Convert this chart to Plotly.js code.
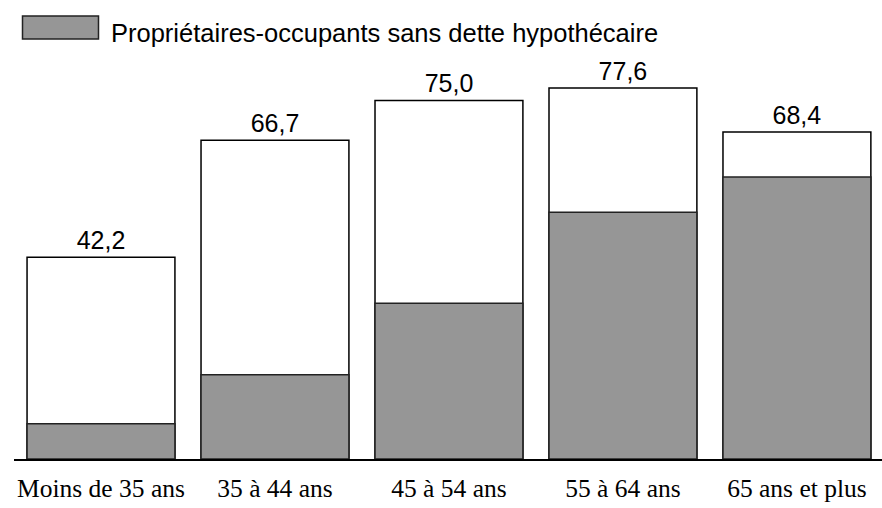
<!DOCTYPE html>
<html>
<head>
<meta charset="utf-8">
<script src="https://cdn.plot.ly/plotly-3.0.1.min.js"></script>
<style>html,body{margin:0;padding:0;background:#fff;}#chart{width:882px;height:508px;}</style>
</head>
<body>
<div id="chart"></div>
<script>
// Data
const categories = ["Moins de 35 ans", "35 à 44 ans", "45 à 54 ans", "55 à 64 ans", "65 ans et plus"];
const totalOwners = [42.2, 66.7, 75.0, 77.6, 68.4];      // Total propriétaires-occupants (white bars, labelled)
const noMortgage = [7.4, 17.6, 32.6, 51.6, 59.0];         // Propriétaires-occupants sans dette hypothécaire (grey)
const legendName = "Propriétaires-occupants sans dette hypothécaire";

const sansFont = "Liberation Sans, Arial, Helvetica, sans-serif";
const serifFont = "Liberation Serif, Times New Roman, Times, serif";
const fmt = v => v.toFixed(1).replace('.', ',');

const traces = [
  {
    type: 'bar',
    name: 'Propriétaires-occupants',
    x: categories,
    y: totalOwners,
    text: totalOwners.map(fmt),
    textposition: 'outside',
    cliponaxis: false,
    textfont: {family: sansFont, size: 25, color: '#000'},
    marker: {color: '#ffffff', line: {color: '#000000', width: 1.5}},
    showlegend: false,
    hoverinfo: 'x+y'
  },
  {
    type: 'bar',
    name: legendName,
    x: categories,
    y: noMortgage,
    marker: {color: '#969696', line: {color: '#222222', width: 1.5}},
    showlegend: false,
    hoverinfo: 'x+y'
  }
];

const layout = {
  width: 882,
  height: 508,
  margin: {l: 14, r: 0, t: 60, b: 49},
  paper_bgcolor: '#ffffff',
  plot_bgcolor: '#ffffff',
  barmode: 'overlay',
  bargap: 0.15,
  showlegend: false,
  xaxis: {
    type: 'category',
    range: [-0.5, 4.489],
    showline: true,
    linecolor: '#000000',
    linewidth: 1.5,
    ticks: '',
    showgrid: false,
    zeroline: false,
    tickfont: {family: serifFont, size: 25.5, color: '#000'},
    ticklabelstandoff: 6,
    fixedrange: true
  },
  yaxis: {
    range: [0, 83.47],
    visible: false,
    showgrid: false,
    zeroline: false,
    fixedrange: true
  },
  shapes: [
    {
      type: 'rect',
      xref: 'paper', yref: 'paper',
      xsizemode: 'pixel', ysizemode: 'pixel',
      xanchor: 0, yanchor: 1,
      x0: 8.5, x1: 84.5, y0: 21, y1: 44,
      fillcolor: '#969696',
      line: {color: '#222222', width: 1.5}
    }
  ],
  annotations: [
    {
      xref: 'paper', yref: 'paper',
      x: 0.1095, y: 1.0677,
      xanchor: 'left', yanchor: 'middle',
      text: legendName,
      showarrow: false,
      font: {family: sansFont, size: 25.5, color: '#000'}
    }
  ]
};

Plotly.newPlot('chart', traces, layout, {displayModeBar: false, staticPlot: true});
</script>
</body>
</html>
